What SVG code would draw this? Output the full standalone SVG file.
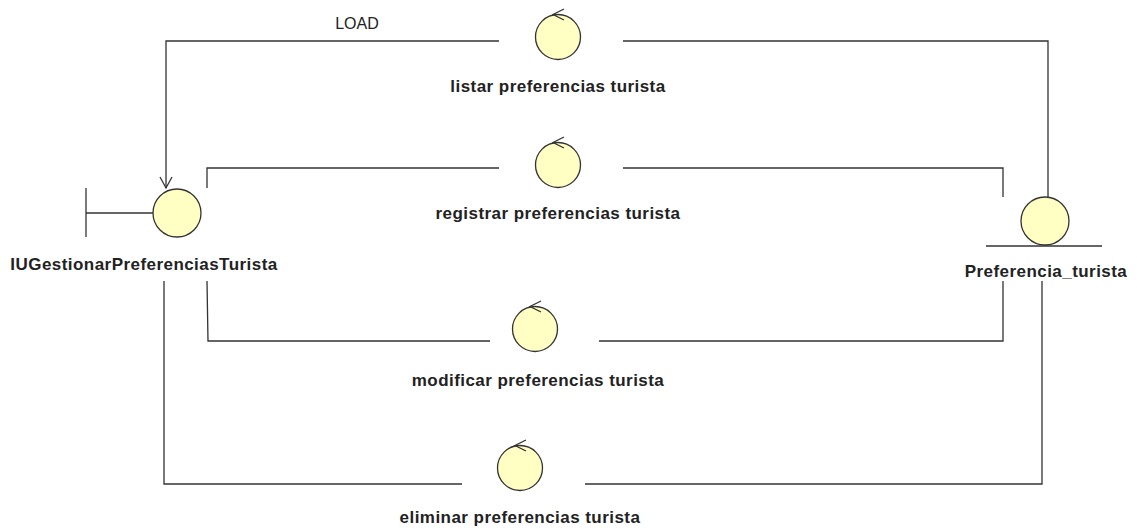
<svg xmlns="http://www.w3.org/2000/svg" width="1137" height="529" viewBox="0 0 1137 529">
  <style>
    .bg { fill: #ffffff; }
    .shape { fill: #ffffc4; stroke: #333333; stroke-width: 1.3; }
    .line { fill: none; stroke: #333333; stroke-width: 1.3; }
    .label { font-family: "Liberation Sans", Arial, sans-serif; font-size: 17px; letter-spacing: 0.45px; font-weight: bold; fill: #222222; text-anchor: middle; }
    .msg { font-family: "Liberation Sans", Arial, sans-serif; font-size: 16px; fill: #222222; text-anchor: middle; }
  </style>
  <defs>
    <!-- control stereotype: circle with a small arrow on top -->
    <g id="control">
      <circle class="shape" cx="0" cy="0" r="22.5"/>
      <path class="line" d="M 6,-28 L -5,-22.5 L 6,-17"/>
    </g>
  </defs>
  <rect class="bg" x="0" y="0" width="1137" height="529"/>

  <!-- connectors -->
  <g id="connectors">
    <!-- listar preferencias turista (LOAD) -->
    <polyline class="line" points="499,41 166,41 166,188"/>
    <path class="line" d="M 160,177 L 166,188 L 172,177"/>
    <text class="msg" x="357" y="29">LOAD</text>
    <polyline class="line" points="623,41 1048,41 1048,197"/>
    <!-- registrar preferencias turista -->
    <polyline class="line" points="499,168 207,168 207,188"/>
    <polyline class="line" points="623,168 1003,168 1003,197"/>
    <!-- modificar preferencias turista -->
    <polyline class="line" points="207,281 208,341 490,341"/>
    <polyline class="line" points="599,341 1003,341 1003,281"/>
    <!-- eliminar preferencias turista -->
    <polyline class="line" points="164,281 164,484 462,484"/>
    <polyline class="line" points="585,484 1042,484 1042,281"/>
  </g>

  <!-- boundary -->
  <g id="IUGestionarPreferenciasTurista">
    <line class="line" x1="86" y1="188" x2="86" y2="237"/>
    <line class="line" x1="86" y1="213" x2="153" y2="213"/>
    <circle class="shape" cx="177" cy="213" r="24"/>
    <text class="label" x="144" y="270">IUGestionarPreferenciasTurista</text>
  </g>

  <!-- entity -->
  <g id="Preferencia_turista">
    <circle class="shape" cx="1045" cy="221" r="24"/>
    <line class="line" x1="986" y1="246" x2="1102" y2="246"/>
    <text class="label" x="1046" y="277">Preferencia_turista</text>
  </g>

  <!-- controls -->
  <g id="listar_preferencias_turista">
    <use href="#control" x="558" y="37"/>
    <text class="label" x="558" y="92">listar preferencias turista</text>
  </g>
  <g id="registrar_preferencias_turista">
    <use href="#control" x="558" y="165"/>
    <text class="label" x="558" y="219">registrar preferencias turista</text>
  </g>
  <g id="modificar_preferencias_turista">
    <use href="#control" x="535" y="329"/>
    <text class="label" x="538" y="386">modificar preferencias turista</text>
  </g>
  <g id="eliminar_preferencias_turista">
    <use href="#control" x="520" y="468"/>
    <text class="label" x="520" y="523">eliminar preferencias turista</text>
  </g>
</svg>
